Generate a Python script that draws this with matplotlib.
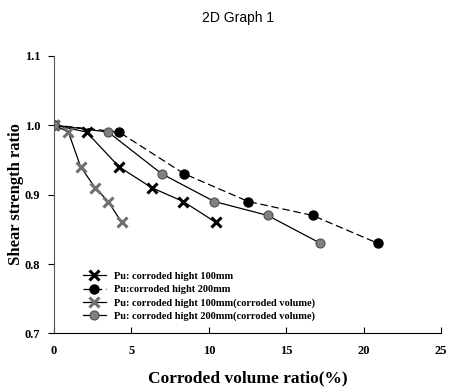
import matplotlib
matplotlib.use("Agg")
from matplotlib import pyplot as plt

# data
x_100 = [0, 2.1, 4.2, 6.3, 8.35, 10.45]
y_100 = [1.0, 0.99, 0.94, 0.91, 0.89, 0.86]
x_200 = [0, 4.2, 8.4, 12.55, 16.7, 20.9]
y_200 = [1.0, 0.99, 0.93, 0.89, 0.87, 0.83]
x_100v = [0, 0.93, 1.72, 2.65, 3.5, 4.37]
y_100v = [1.0, 0.99, 0.94, 0.91, 0.89, 0.86]
x_200v = [0, 3.5, 6.95, 10.35, 13.8, 17.2]
y_200v = [1.0, 0.99, 0.93, 0.89, 0.87, 0.83]

labels = ["Pu: corroded hight 100mm",
          "Pu:corroded hight 200mm",
          "Pu: corroded hight 100mm(corroded volume)",
          "Pu: corroded hight 200mm(corroded volume)"]

serif = "Liberation Serif"

fig = plt.figure(figsize=(4.5, 3.89), dpi=100)
ax = fig.add_axes([0.12, 0.1427, 0.86, 0.7143])

ax.plot(x_100, y_100, color="black", lw=0.9, marker="x", ms=7, mew=2.2,
        mec="black", label=labels[0])
ax.plot(x_200, y_200, color="black", lw=0.9, ls=(0, (6, 3)), marker="o", ms=6.5,
        mfc="black", mec="black", label=labels[1])
ax.plot(x_100v, y_100v, color="black", lw=0.9, marker="x", ms=7, mew=2.2,
        mec="#707070", label=labels[2])
ax.plot(x_200v, y_200v, color="black", lw=0.9, marker="o", ms=6.5,
        mfc="#808080", mec="#505050", mew=0.8, label=labels[3])

ax.set_xlim(0, 25)
ax.set_ylim(0.7, 1.1)
ax.set_xticks([0, 5, 10, 15, 20, 25])
ax.set_yticks([0.7, 0.8, 0.9, 1.0, 1.1])
ax.set_yticklabels(["0.7", "0.8", "0.9", "1.0", "1.1"])

for s in ["top", "right"]:
    ax.spines[s].set_visible(False)
ax.spines["left"].set_color("#555555")
ax.spines["bottom"].set_color("black")
ax.tick_params(axis="x", direction="in", length=4, pad=8)
ax.tick_params(axis="y", direction="out", length=4, pad=6)
for lab in ax.get_xticklabels() + ax.get_yticklabels():
    lab.set_fontfamily(serif)
    lab.set_fontweight("bold")
    lab.set_fontsize(9)

ax.set_xlabel("Corroded volume ratio(%)", fontfamily=serif, fontweight="bold",
              fontsize=12.5, labelpad=10)
# y label placed by hand so it does not run off the left edge
fig.text(0.035, 0.5, "Shear strength ratio", rotation=90, ha="center", va="center",
         fontfamily=serif, fontweight="bold", fontsize=12)
fig.text(0.53, 0.955, "2D Graph 1", ha="center", va="center",
         fontfamily="Liberation Sans", fontsize=10)

leg = ax.legend(loc="lower left", bbox_to_anchor=(0.05, 0.01), frameon=False,
                prop={"family": serif, "weight": "bold", "size": 7.5},
                handlelength=2.2, handletextpad=0.8, labelspacing=0.38)

fig.savefig("out.png", dpi=100)
